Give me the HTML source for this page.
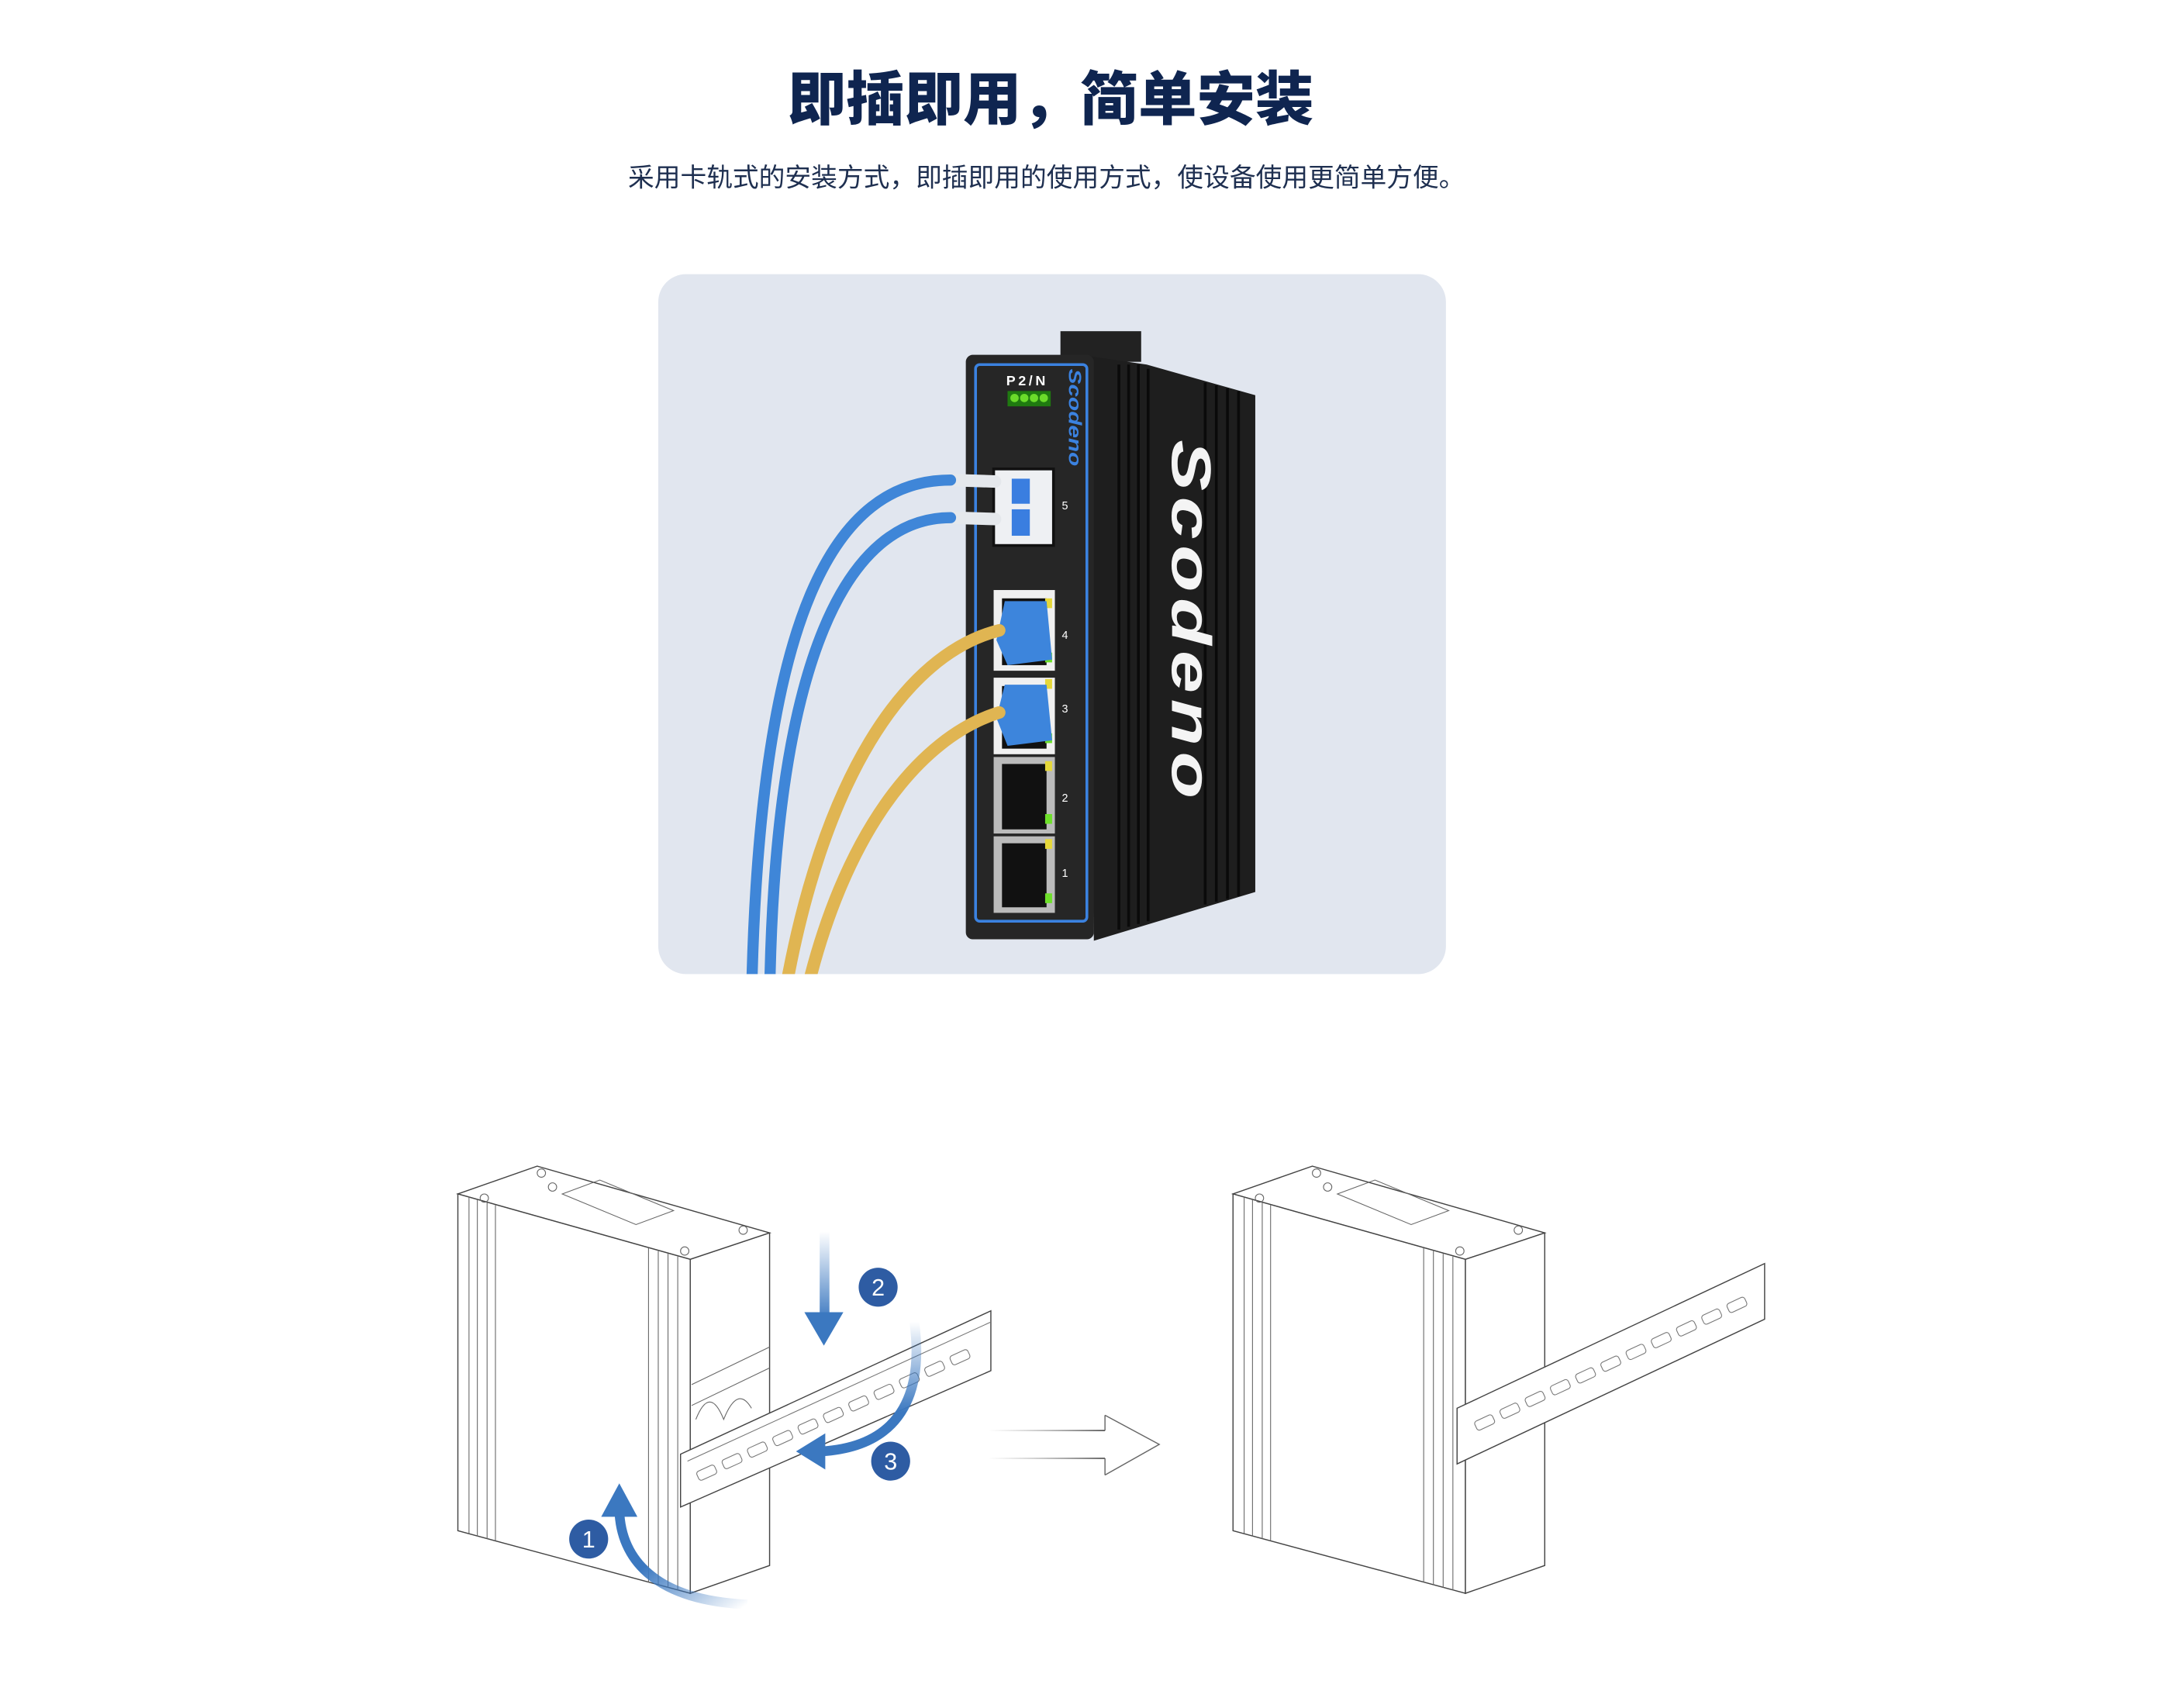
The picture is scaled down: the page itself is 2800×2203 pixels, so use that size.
<!DOCTYPE html>
<html><head><meta charset="utf-8">
<style>
html,body{margin:0;padding:0;background:#fff;}
svg{display:block;}
</style></head>
<body>
<svg width="2800" height="2203" viewBox="0 0 1560 1227.4" xmlns="http://www.w3.org/2000/svg">
<defs>
<linearGradient id="gv" x1="0" y1="0" x2="0" y2="1"><stop offset="0" stop-color="#3b78c0" stop-opacity="0"/><stop offset="1" stop-color="#3b78c0"/></linearGradient>
<linearGradient id="g1" x1="1" y1="1" x2="0" y2="0"><stop offset="0" stop-color="#3b78c0" stop-opacity="0"/><stop offset="0.6" stop-color="#3b78c0"/></linearGradient>
<linearGradient id="g3" x1="0" y1="0" x2="0" y2="1"><stop offset="0" stop-color="#3b78c0" stop-opacity="0"/><stop offset="0.7" stop-color="#3b78c0"/></linearGradient>
<linearGradient id="gh" gradientUnits="userSpaceOnUse" x1="710" y1="0" x2="794" y2="0"><stop offset="0" stop-color="#999" stop-opacity="0"/><stop offset="1" stop-color="#555"/></linearGradient>
<clipPath id="card"><rect x="473" y="197" width="566" height="503" rx="20"/></clipPath>
</defs>

<text x="755" y="86" text-anchor="middle" font-family="'Liberation Sans','Noto Sans CJK SC',sans-serif" font-weight="900" font-size="42" fill="#0f2550">即插即用，简单安装</text>
<text x="752" y="134" text-anchor="middle" font-family="'Liberation Sans','Noto Sans CJK SC',sans-serif" font-size="18.8" fill="#1e2f50">采用卡轨式的安装方式，即插即用的使用方式，使设备使用更简单方便。</text>

<rect x="473" y="197" width="566" height="503" rx="20" fill="#e1e6ef"/>
<g clip-path="url(#card)">
<rect x="762" y="238" width="58" height="22" fill="#222"/>
<polygon points="783,256 824,262 902,284 902,641 786,676" fill="#1e1e1e"/>
<g stroke="#0a0a0a" stroke-width="2">
<line x1="804" y1="262" x2="804" y2="668"/><line x1="811" y1="262" x2="811" y2="666"/><line x1="818" y1="262" x2="818" y2="664"/><line x1="825" y1="265" x2="825" y2="662"/>
<line x1="866" y1="275" x2="866" y2="650"/><line x1="874" y1="277" x2="874" y2="648"/><line x1="882" y1="279" x2="882" y2="646"/><line x1="890" y1="281" x2="890" y2="644"/>
</g>
<text transform="translate(842,316) rotate(90)" font-family="'Liberation Sans',sans-serif" font-weight="bold" font-style="italic" font-size="40" letter-spacing="3" textLength="262" lengthAdjust="spacingAndGlyphs" fill="#f4f4f4">Scodeno</text>
<rect x="694" y="255" width="92" height="420" rx="5" fill="#262626"/>
<rect x="701" y="262" width="80" height="400" rx="3" fill="none" stroke="#3b82e0" stroke-width="2"/>
<text x="723" y="277" font-family="'Liberation Sans',sans-serif" font-size="10" fill="#fff" font-weight="bold" letter-spacing="2">P2/N</text>
<rect x="724" y="281" width="31" height="11" fill="#1f7a10"/>
<circle cx="729" cy="286" r="3" fill="#6bdc2a"/><circle cx="736" cy="286" r="3" fill="#6bdc2a"/><circle cx="743" cy="286" r="3" fill="#6bdc2a"/><circle cx="750" cy="286" r="3" fill="#6bdc2a"/>
<text transform="translate(768,265) rotate(90)" font-family="'Liberation Sans',sans-serif" font-weight="bold" font-style="italic" font-size="13" textLength="70" lengthAdjust="spacingAndGlyphs" fill="#3b82e0">Scodeno</text>
<rect x="713" y="336" width="45" height="57" fill="#111"/>
<rect x="715" y="338" width="41" height="53" fill="#eef0f3"/>
<rect x="727" y="344" width="13" height="18" fill="#3a7ee0"/><rect x="727" y="366" width="13" height="19" fill="#3a7ee0"/>
<text x="763" y="366" font-family="'Liberation Sans',sans-serif" font-size="8" fill="#fff">5</text>
<g font-family="'Liberation Sans',sans-serif" font-size="8" fill="#fff">
<rect x="714" y="424" width="44" height="58" fill="#f0f0f0"/><rect x="720" y="430" width="32" height="48" fill="#111"/>
<rect x="714" y="487" width="44" height="55" fill="#f0f0f0"/><rect x="720" y="493" width="32" height="45" fill="#111"/>
<rect x="714" y="544" width="44" height="55" fill="#bbb"/><rect x="720" y="549" width="32" height="47" fill="#111"/>
<rect x="714" y="601" width="44" height="55" fill="#bbb"/><rect x="720" y="606" width="32" height="46" fill="#111"/>
<text x="763" y="459">4</text><text x="763" y="512">3</text><text x="763" y="576">2</text><text x="763" y="630">1</text>
</g>
<g fill="#e6d83a"><rect x="751" y="430" width="5" height="7"/><rect x="751" y="488" width="5" height="7"/><rect x="751" y="547" width="5" height="7"/><rect x="751" y="603" width="5" height="7"/></g>
<g fill="#6ee02a"><rect x="751" y="469" width="5" height="7"/><rect x="751" y="527" width="5" height="7"/><rect x="751" y="585" width="5" height="7"/><rect x="751" y="642" width="5" height="7"/></g>
<path d="M722,432 L752,432 L756,474 L724,478 L716,460 Z" fill="#3d85dc"/>
<path d="M722,492 L752,492 L756,532 L724,536 L716,516 Z" fill="#3d85dc"/>
<g fill="none" stroke-linecap="round">
<path d="M715,346 L683,345 C600,345 545,440 540,720" stroke="#e5e8ec" stroke-width="9"/>
<path d="M715,373 L683,372 C610,372 556,470 553,720" stroke="#e5e8ec" stroke-width="9"/>
<path d="M683,345 C600,345 545,440 540,720" stroke="#3f86d8" stroke-width="8"/>
<path d="M683,372 C610,372 556,470 553,720" stroke="#3f86d8" stroke-width="8"/>
<path d="M718,453 C650,470 590,560 563,720" stroke="#e0b552" stroke-width="9"/>
<path d="M718,512 C660,530 605,600 578,720" stroke="#e0b552" stroke-width="9"/>
</g>
</g>

<g fill="#fff" stroke="#444" stroke-width="0.8">
<polygon points="329,858 386,838 553,886 496,905"/>
<polygon points="329,858 496,905 496,1145 329,1100"/>
<polygon points="496,905 553,886 553,1125 496,1145"/>
</g>
<g stroke="#666" stroke-width="0.6" fill="none">
<line x1="337" y1="860" x2="337" y2="1102"/><line x1="343" y1="862" x2="343" y2="1104"/><line x1="350" y1="864" x2="350" y2="1106"/><line x1="356" y1="866" x2="356" y2="1107"/>
<line x1="466" y1="897" x2="466" y2="1137"/><line x1="473" y1="899" x2="473" y2="1139"/><line x1="480" y1="901" x2="480" y2="1141"/><line x1="487" y1="903" x2="487" y2="1143"/>
<polygon points="404,858 431,848 484,870 457,880"/>
<circle cx="348" cy="861" r="3"/><circle cx="389" cy="843" r="3"/><circle cx="397" cy="853" r="3"/><circle cx="534" cy="884" r="3"/><circle cx="492" cy="899" r="3"/>
<polyline points="497,995 553,968"/><polyline points="497,1010 553,983"/>
<path d="M500,1020 q10,-25 20,0 q10,-25 20,-8"/>
</g>
<g fill="#fff" stroke="#444" stroke-width="0.8">
<polygon points="489,1045 712,942 712,985 489,1083"/>
</g>
<line x1="494" y1="1050" x2="712" y2="950" stroke="#777" stroke-width="0.6"/>
<g fill="none" stroke="#777" stroke-width="0.6">
<g transform="translate(500,1058) rotate(-24.5)">
<rect x="0" y="0" width="14" height="7" rx="2"/><rect x="20" y="0" width="14" height="7" rx="2"/><rect x="40" y="0" width="14" height="7" rx="2"/><rect x="60" y="0" width="14" height="7" rx="2"/><rect x="80" y="0" width="14" height="7" rx="2"/><rect x="100" y="0" width="14" height="7" rx="2"/><rect x="120" y="0" width="14" height="7" rx="2"/><rect x="140" y="0" width="14" height="7" rx="2"/><rect x="160" y="0" width="14" height="7" rx="2"/><rect x="180" y="0" width="14" height="7" rx="2"/><rect x="200" y="0" width="14" height="7" rx="2"/>
</g>
</g>
<rect x="589" y="885" width="7" height="65" fill="url(#gv)"/>
<polygon points="578,943 606,943 592,967" fill="#3b78c0"/>
<circle cx="631" cy="925" r="14" fill="#2e5ca3"/><text x="631" y="931" text-anchor="middle" font-family="'Liberation Sans',sans-serif" font-size="17" fill="#fff">2</text>
<path d="M657,950 C665,1010 640,1040 590,1043" fill="none" stroke="url(#g3)" stroke-width="7"/>
<polygon points="572,1043 593,1030 593,1056" fill="#3b78c0"/>
<circle cx="640" cy="1050" r="14" fill="#2e5ca3"/><text x="640" y="1056" text-anchor="middle" font-family="'Liberation Sans',sans-serif" font-size="17" fill="#fff">3</text>
<path d="M537,1153 C470,1150 446,1120 445,1085" fill="none" stroke="url(#g1)" stroke-width="7"/>
<polygon points="445,1066 432,1090 458,1090" fill="#3b78c0"/>
<circle cx="423" cy="1106" r="14" fill="#2e5ca3"/><text x="423" y="1112" text-anchor="middle" font-family="'Liberation Sans',sans-serif" font-size="17" fill="#fff">1</text>

<g fill="none" stroke="url(#gh)" stroke-width="1">
<path d="M710,1028 L794,1028"/><path d="M710,1048 L794,1048"/>
</g>
<polyline points="794,1017 833,1038 794,1060" fill="none" stroke="#666" stroke-width="0.8"/>
<line x1="794" y1="1017" x2="794" y2="1028" stroke="#666" stroke-width="0.8"/><line x1="794" y1="1048" x2="794" y2="1060" stroke="#666" stroke-width="0.8"/>

<g transform="translate(557,0)">
<g fill="#fff" stroke="#444" stroke-width="0.8">
<polygon points="329,858 386,838 553,886 496,905"/>
<polygon points="329,858 496,905 496,1145 329,1100"/>
<polygon points="496,905 553,886 553,1125 496,1145"/>
</g>
<g stroke="#666" stroke-width="0.6" fill="none">
<line x1="337" y1="860" x2="337" y2="1102"/><line x1="343" y1="862" x2="343" y2="1104"/><line x1="350" y1="864" x2="350" y2="1106"/><line x1="356" y1="866" x2="356" y2="1107"/>
<line x1="466" y1="897" x2="466" y2="1137"/><line x1="473" y1="899" x2="473" y2="1139"/><line x1="480" y1="901" x2="480" y2="1141"/><line x1="487" y1="903" x2="487" y2="1143"/>
<polygon points="404,858 431,848 484,870 457,880"/>
<circle cx="348" cy="861" r="3"/><circle cx="389" cy="843" r="3"/><circle cx="397" cy="853" r="3"/><circle cx="534" cy="884" r="3"/><circle cx="492" cy="899" r="3"/>
</g>
<g fill="#fff" stroke="#444" stroke-width="0.8">
<polygon points="490,1012 711,908 711,948 490,1052"/>
</g>
<g fill="none" stroke="#777" stroke-width="0.6">
<g transform="translate(502,1022) rotate(-25)">
<rect x="0" y="0" width="14" height="7" rx="2"/><rect x="20" y="0" width="14" height="7" rx="2"/><rect x="40" y="0" width="14" height="7" rx="2"/><rect x="60" y="0" width="14" height="7" rx="2"/><rect x="80" y="0" width="14" height="7" rx="2"/><rect x="100" y="0" width="14" height="7" rx="2"/><rect x="120" y="0" width="14" height="7" rx="2"/><rect x="140" y="0" width="14" height="7" rx="2"/><rect x="160" y="0" width="14" height="7" rx="2"/><rect x="180" y="0" width="14" height="7" rx="2"/><rect x="200" y="0" width="14" height="7" rx="2"/>
</g>
</g>
</g>
</svg>
</body></html>
